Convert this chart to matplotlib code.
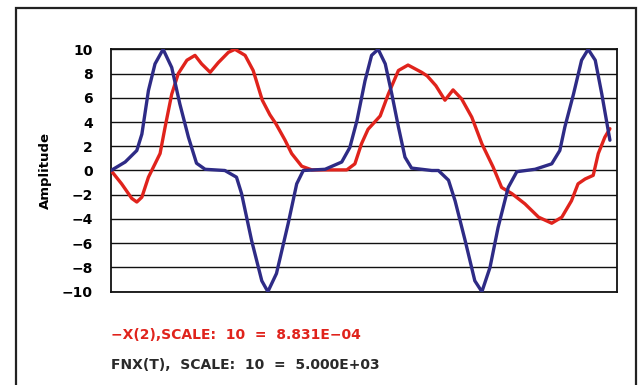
import numpy as np
import matplotlib.pyplot as plt
from matplotlib.patches import Rectangle

# time axis runs 0..100 across the plot
t_fnx = [0, 2.8, 5.1, 6.1, 7.4, 8.7, 10.3, 12.0, 13.6, 15.3, 16.9, 18.6, 22.5,
         24.8, 25.8, 27.8, 29.8, 31.0, 32.7, 35.0, 36.7, 38.0, 42.3, 45.6, 47.2,
         48.6, 50.2, 51.5, 52.8, 54.2, 55.5, 56.8, 58.1, 59.4, 63.4, 64.7, 66.7,
         68.0, 70.0, 71.9, 73.3, 74.9, 76.5, 78.5, 80.2, 83.8, 87.1, 88.7, 89.7,
         91.4, 93.0, 94.3, 95.7, 97.0, 98.6]
fnx = [0, 0.7, 1.65, 3.0, 6.6, 8.8, 10, 8.5, 5.5, 2.75, 0.6, 0.1, 0,
       -0.55, -1.9, -5.8, -9.1, -10, -8.5, -4.4, -1.1, 0, 0.1, 0.7, 1.9,
       4.1, 7.4, 9.5, 10, 8.8, 6.3, 3.6, 1.1, 0.2, 0, 0, -0.8,
       -2.5, -5.8, -9.1, -10, -8.0, -4.7, -1.4, -0.1, 0.1, 0.55, 1.65, 3.6,
       6.3, 9.1, 10, 9.1, 6.3, 2.5]

t_x2 = [0, 2.1, 4.1, 5.1, 6.1, 7.4, 8.7, 9.7, 10.7, 12.0, 13.3, 15.0, 16.6,
        17.9, 19.6, 21.2, 23.2, 24.5, 26.5, 28.1, 29.9, 31.4, 32.6, 34.4, 35.7,
        37.7, 39.7, 46.6, 48.2, 49.5, 50.8, 53.2, 54.8, 56.8, 58.7, 61.4, 62.5,
        64.2, 66.0, 67.6, 69.3, 71.3, 73.3, 75.5, 77.2, 79.2, 81.8, 84.5, 87.1,
        89.1, 91.0, 92.3, 93.7, 95.3, 96.3, 97.6, 98.6]
x2 = [0, -1.1, -2.3, -2.6, -2.2, -0.55, 0.55, 1.4, 3.6, 6.3, 8.0, 9.1, 9.5,
      8.8, 8.1, 8.9, 9.75, 10, 9.5, 8.25, 5.8, 4.6, 3.85, 2.5, 1.4,
      0.35, 0.05, 0.05, 0.55, 2.2, 3.4, 4.5, 6.3, 8.25, 8.7, 8.1, 7.8,
      7.0, 5.8, 6.65, 5.9, 4.4, 2.2, 0.3, -1.4, -1.9, -2.75, -3.85, -4.35,
      -3.85, -2.5, -1.1, -0.7, -0.4, 1.4, 2.75, 3.45]

yticks = [-10, -8, -6, -4, -2, 0, 2, 4, 6, 8, 10]

blue = "#2e2b86"
red = "#e0231c"

fig = plt.figure(figsize=(6.39, 3.85), dpi=100)
fig.patches.append(Rectangle((16 / 639, -0.05), 620 / 639, 1.05 - 8 / 385,
                             transform=fig.transFigure, fill=False,
                             edgecolor="#222222", linewidth=1.6))

ax = fig.add_axes([111 / 639, 1 - 291.7 / 385, 506 / 639, 242.4 / 385])
ax.plot(t_x2, x2, color=red, lw=2.4, solid_joinstyle="round",
        solid_capstyle="round", zorder=3)
ax.plot(t_fnx, fnx, color=blue, lw=2.4, solid_joinstyle="round",
        solid_capstyle="round", zorder=4)

ax.set_xlim(0, 100)
ax.set_ylim(-10, 10)
ax.set_xticks([])
ax.set_yticks(yticks)
ax.set_yticklabels([str(v).replace("-", "\u2212") for v in yticks],
                   fontsize=10, fontweight="bold")
ax.tick_params(axis="y", length=0, pad=13)
ax.grid(axis="y", color="#111111", lw=1.0)
for s in ax.spines.values():
    s.set_linewidth(1.3)
    s.set_color("#111111")
ax.set_ylabel("Amplitude", fontsize=9.5, fontweight="bold", labelpad=7)

fig.text(111 / 639, 1 - 335 / 385, "\u2212X(2),SCALE:  10  =  8.831E\u221204",
         color=red, fontsize=10, fontweight="bold", va="center")
fig.text(111 / 639, 1 - 365 / 385, "FNX(T),  SCALE:  10  =  5.000E+03",
         color="#2a2a2a", fontsize=10, fontweight="semibold", va="center")

fig.savefig("out.png", dpi=100)
